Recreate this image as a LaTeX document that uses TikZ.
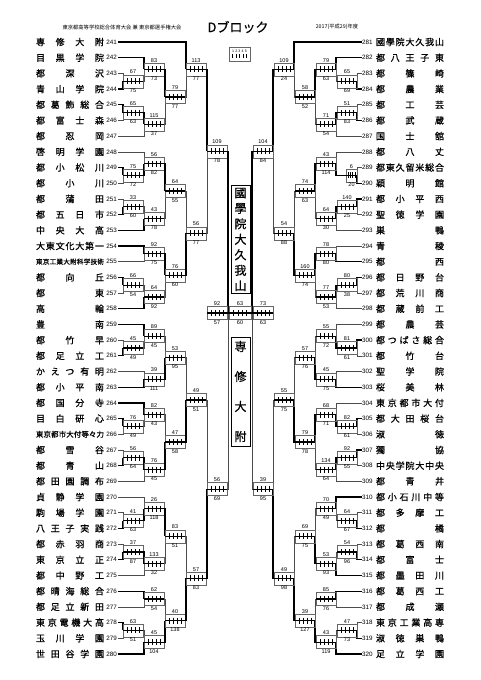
\documentclass[tikz,border=0pt]{standalone}
\usepackage{fontspec}
\setmainfont{Liberation Sans}
\newfontfamily\jpfont{Noto Sans CJK JP}
\newfontfamily\jpbold[FakeBold=0.8]{Noto Sans CJK JP}
\usetikzlibrary{calc,positioning}
\makeatletter
\def\spreadname#1{\expandafter\sp@first#1\relax}
\def\sp@first#1{#1\sp@more}
\def\sp@more#1{\ifx\relax#1\else\hfill#1\expandafter\sp@more\fi}
\makeatother
\def\gw{20}
\newcommand\gamebox[8]{%
  \path let \p1=(#4), \p2=(#5) in
    coordinate (#1-in) at (#2pt,{(\y1+\y2)/2})
    coordinate (#1) at (#3pt,{(\y1+\y2)/2});
  \if t#8
    \draw[lose] (#5) -| (#1-in); \draw[win] (#4) -| (#1-in);
  \else
    \draw[lose] (#4) -| (#1-in); \draw[win] (#5) -| (#1-in);
  \fi
  \draw[gbox] ($(#1-in)+(0,-6.5)$) rectangle ($(#1)+(0,6.5)$);
  \draw[win] (#1-in) -- (#1);
  \foreach \k in {1,...,4} \draw[tick] ($(#1-in)!\k/5!(#1)$) +(0,-3) -- +(0,3);
  \node[score, above=0pt] at ($(#1-in)!.5!(#1)+(0,-6.5)$) {#6};
  \node[score, below=0pt] at ($(#1-in)!.5!(#1)+(0,6.5)$) {#7};
}
\newcommand\gameL[7]{\pgfmathsetmacro\gx{123+21*(#2-1)}\pgfmathsetmacro\gxo{\gx+\gw}%
  \gamebox{#1}{\gx}{\gxo}{#3}{#4}{#5}{#6}{#7}}
\newcommand\gameR[7]{\pgfmathsetmacro\gx{357-21*(#2-1)}\pgfmathsetmacro\gxo{\gx-\gw}%
  \gamebox{#1}{\gx}{\gxo}{#3}{#4}{#5}{#6}{#7}}
\tikzset{
  win/.style={line width=1.3pt, black},
  lose/.style={line width=.6pt, black!70},
  gbox/.style={line width=.4pt, black!60},
  tick/.style={line width=.5pt, black},
  score/.style={font=\fontsize{5.5}{6}\selectfont, inner sep=.6pt},
  num/.style={font=\fontsize{6.3}{7}\selectfont, inner sep=0pt},
  champ/.style={draw, line width=1pt, align=center, inner sep=2pt,
    minimum width=19pt, text width=12pt}
}
\begin{document}
\begin{tikzpicture}[x=1pt, y=-1pt]
\useasboundingbox (0,0) rectangle (481,680);
\node[font=\jpfont\fontsize{5.3}{6}\selectfont] (head) at (122,27) {東京都高等学校総合体育大会\ 兼\ 東京都選手権大会};
\node[font=\jpbold\fontsize{13}{14}\selectfont] (title) at (238,27) {Dブロック};
\node[font=\jpfont\fontsize{5.3}{6}\selectfont] (year) at (337,27) {2017(平成29)年度};
\draw[gbox] (229,47) rectangle (250,61);
\node[font=\fontsize{3.6}{4}\selectfont, inner sep=0pt] (legend) at (239.5,51) {1\,\,2\,\,3\,\,4\,\,5};
\foreach \k in {1,...,5} \draw[line width=.3pt] (229+3.5*\k,54) -- (229+3.5*\k,58);

\foreach \n/\s/\f in {241/専修大附/9, 242/目黒学院/9, 243/都深沢/9, 244/青山学院/9,
  245/都葛飾総合/9, 246/都富士森/9, 247/都忍岡/9, 248/啓明学園/9, 249/都小松川/9,
  250/都小川/9, 251/都蒲田/9, 252/都五日市/9, 253/中央大高/9, 254/大東文化大第一/9,
  255/東京工業大附科学技術/6.6, 256/都向丘/9, 257/都東/9, 258/高輪/9, 259/豊南/9,
  260/都竹早/9, 261/都足立工/9, 262/かえつ有明/9, 263/都小平南/9, 264/都国分寺/9,
  265/目白研心/9, 266/東京都市大付等々力/7.4, 267/都雪谷/9, 268/都青山/9,
  269/都田園調布/9, 270/貞静学園/9, 271/駒場学園/9, 272/八王子実践/9,
  273/都赤羽商/9, 274/東京立正/9, 275/都中野工/9, 276/都晴海総合/9,
  277/都足立新田/9, 278/東京電機大高/9, 279/玉川学園/9, 280/世田谷学園/9}{
  \pgfmathsetmacro\yy{42+(\n-241)*15.69}
  \node[num, anchor=east] (t\n) at (117,\yy) {\n};
  \node[inner sep=0pt, font=\jpbold\fontsize{\f}{10}\selectfont] (n\n) at (70,\yy) {\makebox[68pt]{\spreadname{\s}}};
  \coordinate (e\n) at (118,\yy);
}
\foreach \n/\s/\f in {281/國學院大久我山/9, 282/都八王子東/9, 283/都篠崎/9, 284/都農業/9,
  285/都工芸/9, 286/都武蔵/9, 287/国士舘/9, 288/都八丈/9, 289/都東久留米総合/9,
  290/穎明館/9, 291/都小平西/9, 292/聖徳学園/9, 293/巣鴨/9, 294/青稜/9, 295/都西/9,
  296/都日野台/9, 297/都荒川商/9, 298/都蔵前工/9, 299/都農芸/9, 300/都つばさ総合/9,
  301/都竹台/9, 302/聖学院/9, 303/桜美林/9, 304/東京都市大付/9, 305/都大田桜台/9,
  306/淑徳/9, 307/獨協/9, 308/中央学院大中央/9, 309/都青井/9, 310/都小石川中等/9,
  311/都多摩工/9, 312/都橘/9, 313/都葛西南/9, 314/都富士/9, 315/都墨田川/9,
  316/都葛西工/9, 317/都成瀬/9, 318/東京工業高専/9, 319/淑徳巣鴨/9, 320/足立学園/9}{
  \pgfmathsetmacro\yy{42+(\n-281)*15.69}
  \node[num, anchor=west] (t\n) at (362,\yy) {\n};
  \node[inner sep=0pt, font=\jpbold\fontsize{\f}{10}\selectfont] (n\n) at (410,\yy) {\makebox[68pt]{\spreadname{\s}}};
  \coordinate (e\n) at (361.5,\yy);
}

\gameL{lg1}{1}{e243}{e244}{67}{75}{b}
\gameL{lg2}{2}{e242}{lg1}{83}{73}{t}
\gameL{lg3}{1}{e245}{e246}{65}{63}{t}
\gameL{lg4}{2}{lg3}{e247}{115}{37}{t}
\gameL{lg5}{3}{lg2}{lg4}{79}{77}{t}
\gameL{lg6}{4}{e241}{lg5}{113}{77}{t}
\gameL{lg7}{1}{e249}{e250}{75}{72}{t}
\gameL{lg8}{2}{e248}{lg7}{56}{82}{b}
\gameL{lg9}{1}{e251}{e252}{33}{60}{b}
\gameL{lg10}{2}{lg9}{e253}{43}{78}{b}
\gameL{lg11}{3}{lg8}{lg10}{64}{55}{t}
\gameL{lg12}{2}{e254}{e255}{92}{75}{t}
\gameL{lg13}{1}{e256}{e257}{66}{54}{t}
\gameL{lg14}{2}{lg13}{e258}{64}{92}{b}
\gameL{lg15}{3}{lg12}{lg14}{76}{60}{t}
\gameL{lg16}{4}{lg11}{lg15}{56}{77}{b}
\gameL{lg17}{5}{lg6}{lg16}{109}{78}{t}
\gameL{lg18}{1}{e260}{e261}{45}{49}{b}
\gameL{lg19}{2}{e259}{lg18}{89}{45}{t}
\gameL{lg20}{2}{e262}{e263}{39}{111}{b}
\gameL{lg21}{3}{lg19}{lg20}{53}{95}{b}
\gameL{lg22}{1}{e265}{e266}{76}{49}{t}
\gameL{lg23}{2}{e264}{lg22}{82}{43}{t}
\gameL{lg24}{1}{e267}{e268}{56}{64}{b}
\gameL{lg25}{2}{lg24}{e269}{76}{45}{t}
\gameL{lg26}{3}{lg23}{lg25}{47}{58}{b}
\gameL{lg27}{4}{lg21}{lg26}{49}{51}{b}
\gameL{lg28}{1}{e271}{e272}{41}{63}{b}
\gameL{lg29}{2}{e270}{lg28}{26}{118}{b}
\gameL{lg30}{1}{e273}{e274}{37}{87}{b}
\gameL{lg31}{2}{lg30}{e275}{133}{32}{t}
\gameL{lg32}{3}{lg29}{lg31}{83}{51}{t}
\gameL{lg33}{2}{e276}{e277}{62}{54}{t}
\gameL{lg34}{1}{e278}{e279}{63}{51}{t}
\gameL{lg35}{2}{lg34}{e280}{45}{104}{b}
\gameL{lg36}{3}{lg33}{lg35}{40}{138}{b}
\gameL{lg37}{4}{lg32}{lg36}{57}{83}{b}
\gameL{lg38}{5}{lg27}{lg37}{56}{69}{b}

\gameR{rg1}{1}{e283}{e284}{65}{69}{b}
\gameR{rg2}{2}{e282}{rg1}{79}{63}{t}
\gameR{rg3}{1}{e285}{e286}{51}{83}{b}
\gameR{rg4}{2}{rg3}{e287}{71}{54}{t}
\gameR{rg5}{3}{rg2}{rg4}{58}{52}{t}
\gameR{rg6}{4}{e281}{rg5}{109}{24}{t}
\def\gw{11}
\gameR{rg7}{1}{e289}{e290}{6}{20}{b}
\def\gw{20}
\gameR{rg8}{2}{e288}{rg7}{43}{114}{b}
\gameR{rg9}{1}{e291}{e292}{140}{25}{t}
\gameR{rg10}{2}{rg9}{e293}{64}{30}{t}
\gameR{rg11}{3}{rg8}{rg10}{74}{63}{t}
\gameR{rg12}{2}{e294}{e295}{78}{80}{b}
\gameR{rg13}{1}{e296}{e297}{80}{38}{t}
\gameR{rg14}{2}{rg13}{e298}{77}{53}{t}
\gameR{rg15}{3}{rg12}{rg14}{160}{74}{t}
\gameR{rg16}{4}{rg11}{rg15}{54}{88}{b}
\gameR{rg17}{5}{rg6}{rg16}{104}{84}{t}
\gameR{rg18}{1}{e300}{e301}{81}{61}{t}
\gameR{rg19}{2}{e299}{rg18}{55}{72}{b}
\gameR{rg20}{2}{e302}{e303}{45}{75}{b}
\gameR{rg21}{3}{rg19}{rg20}{57}{76}{b}
\gameR{rg22}{1}{e305}{e306}{82}{61}{t}
\gameR{rg23}{2}{e304}{rg22}{68}{71}{b}
\gameR{rg24}{1}{e307}{e308}{92}{55}{t}
\gameR{rg25}{2}{rg24}{e309}{134}{64}{t}
\gameR{rg26}{3}{rg23}{rg25}{79}{78}{t}
\gameR{rg27}{4}{rg21}{rg26}{55}{75}{b}
\gameR{rg28}{1}{e311}{e312}{64}{67}{b}
\gameR{rg29}{2}{e310}{rg28}{70}{49}{t}
\gameR{rg30}{1}{e313}{e314}{54}{96}{b}
\gameR{rg31}{2}{rg30}{e315}{53}{93}{b}
\gameR{rg32}{3}{rg29}{rg31}{69}{75}{b}
\gameR{rg33}{2}{e316}{e317}{85}{76}{t}
\gameR{rg34}{1}{e318}{e319}{47}{73}{b}
\gameR{rg35}{2}{rg34}{e320}{43}{119}{b}
\gameR{rg36}{3}{rg33}{rg35}{39}{127}{b}
\gameR{rg37}{4}{rg32}{rg36}{49}{98}{b}
\gameR{rg38}{5}{rg27}{rg37}{39}{95}{b}

\coordinate (semiL) at (228,313);
\coordinate (semiR) at (252,313);
\draw[lose] (lg38) -| (semiL);
\draw[win] (lg17) -| (semiL);
\draw[lose] (rg38) -| (semiR);
\draw[win] (rg17) -| (semiR);
\foreach \a/\b/\s/\t in {207/227/92/57, 229/251/63/60, 253/273/73/63}{
  \draw[gbox] (\a,306.5) rectangle (\b,319.5);
  \foreach \k in {1,...,4} \draw[tick] ({\a+(\b-\a)*\k/5},310) -- ++(0,6);
  \node[score, above=0pt] (sc\a) at ({(\a+\b)/2},306.5) {\s};
  \node[score, below=0pt] (sd\a) at ({(\a+\b)/2},319.5) {\t};
}
\draw[win] (207,313) -- (semiL) -- (semiR) -- (273,313);

\node[champ, minimum height=107pt, font=\jpbold\fontsize{12}{15.5}\selectfont] (winner) at (240.5,239.5) {國\\學\\院\\大\\久\\我\\山};
\node[champ, minimum height=109pt, font=\jpbold\fontsize{12}{30}\selectfont] (second) at (240.5,391.5) {専\\修\\大\\附};
\end{tikzpicture}
\end{document}
